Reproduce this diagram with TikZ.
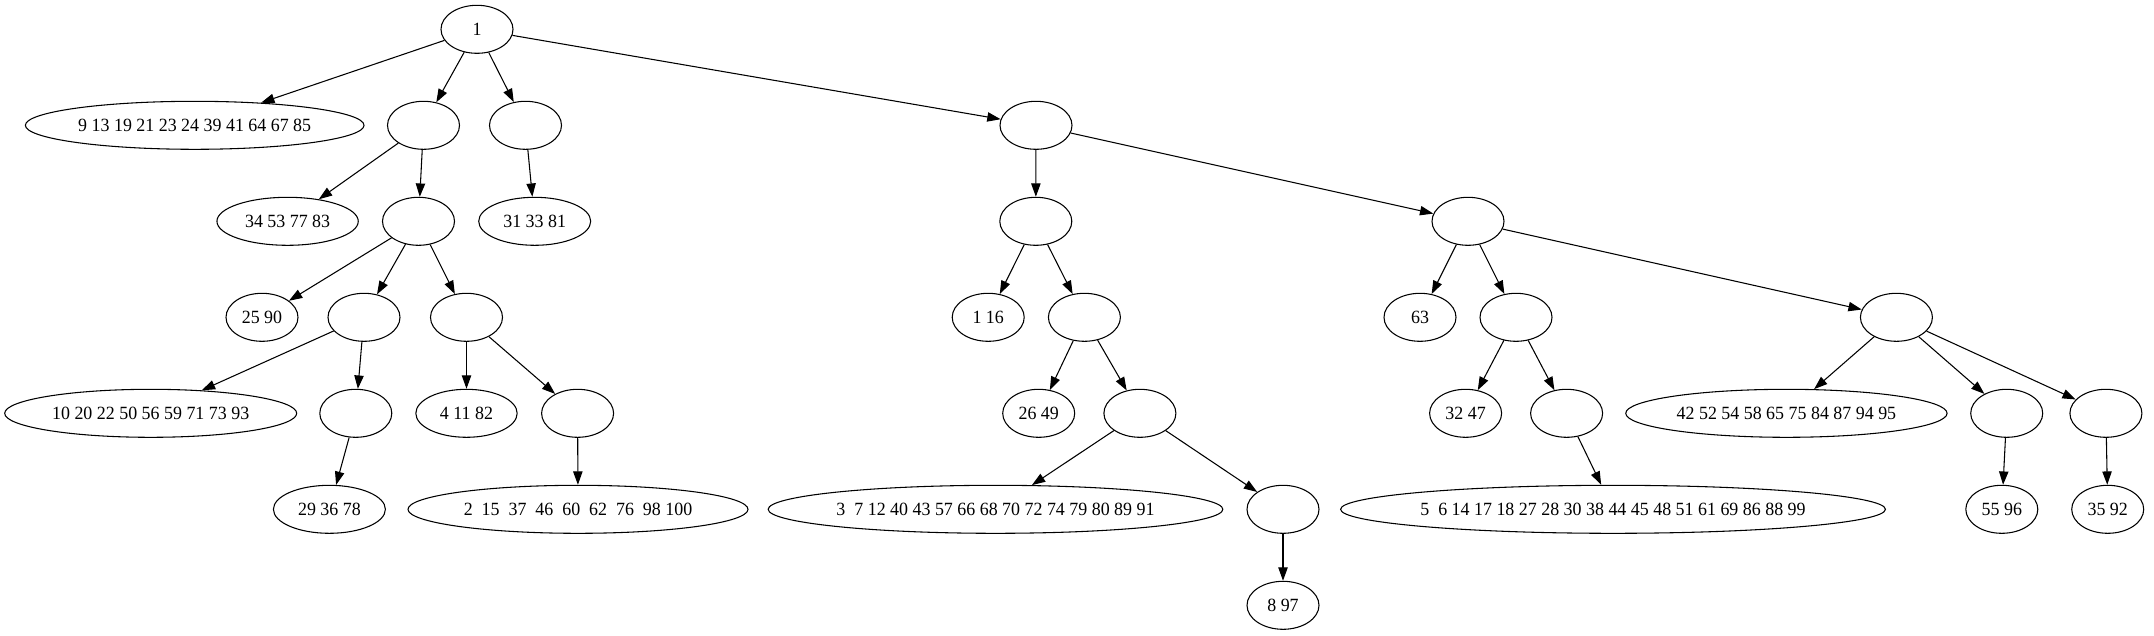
\documentclass[tikz,border=0pt]{standalone}
\usepackage{fontspec}
\setmainfont{Liberation Serif}
\newfontfamily\nodefont{Liberation Serif}[FakeStretch=0.96]
\usepackage{tikz}
\usetikzlibrary{arrows.meta, shapes.geometric}

\begin{document}
\begin{tikzpicture}[
  x=0.75pt, y=-0.75pt,
  leaf/.style={draw, ellipse, minimum width=#1, minimum height=36pt, inner sep=0pt, font=\nodefont\fontsize{14}{16}\selectfont},
  leaf/.default=54pt,
  split/.style={draw, ellipse, minimum width=54pt, minimum height=36pt, inner sep=0pt},
  every path/.style={line width=0.8pt},
  >={Triangle[length=10pt,width=7pt]}
]
\useasboundingbox (0,0) rectangle (2154,635);

% rank 0 and 1
\node[leaf] (root) at (477,29.3) {1};
\node[leaf=254pt] (l9)  at (194.7,125.3) {9 13 19 21 23 24 39 41 64 67 85};
\node[split] (s1) at (423.5,125.3) {};
\node[split] (s2) at (525.5,125.3) {};
\node[split] (s3) at (1036,125.3) {};

% rank 2
\node[leaf=106pt] (l34) at (287.6,221.3) {34 53 77 83};
\node[split] (s4) at (418.5,221.3) {};
\node[leaf=84pt] (l31) at (534.7,221.3) {31 33 81};
\node[split] (s5) at (1035.8,221.3) {};
\node[split] (s6) at (1468,221.3) {};

% rank 3
\node[leaf] (l25) at (262,317.3) {25 90};
\node[split] (s7) at (364,317.3) {};
\node[split] (s8) at (466.5,317.3) {};
\node[leaf] (l1)  at (988.2,317.3) {1 16};
\node[split] (s9) at (1084.4,317.3) {};
\node[leaf] (l63) at (1420,317.3) {63};
\node[split] (s10) at (1516,317.3) {};
\node[split] (s11) at (1896.4,317.3) {};

% rank 4
\node[leaf=219pt] (l10) at (150.7,413.3) {10 20 22 50 56 59 71 73 93};
\node[split] (s12) at (355.8,413.3) {};
\node[leaf=76pt] (l4) at (466.5,413.3) {4 11 82};
\node[split] (s13) at (577.6,413.3) {};
\node[leaf] (l26) at (1038.7,413.3) {26 49};
\node[split] (s14) at (1139.9,413.3) {};
\node[leaf] (l32) at (1465.6,413.3) {32 47};
\node[split] (s15) at (1566.6,413.3) {};
\node[leaf=241pt] (l42) at (1786.4,413.3) {42 52 54 58 65 75 84 87 94 95};
\node[split] (s16) at (2006.7,413.3) {};
\node[split] (s17) at (2105.9,413.3) {};

% rank 5 and 6
\node[leaf=84pt] (l29) at (329.4,509.3) {29 36 78};
\node[leaf=255pt] (l2) at (578,509.3) {2\ \ 15\ \ 37\ \ 46\ \ 60\ \ 62\ \ 76\ \ 98 100};
\node[leaf=341pt] (l3) at (995.5,509.3) {3\ \ 7 12 40 43 57 66 68 70 72 74 79 80 89 91};
\node[split] (s18) at (1283,509.3) {};
\node[leaf=406pt] (l5) at (1613,509.3) {5\ \ 6 14 17 18 27 28 30 38 44 45 48 51 61 69 86 88 99};
\node[leaf] (l55) at (2001.8,509.3) {55 96};
\node[leaf] (l35) at (2107.7,509.3) {35 92};
\node[leaf] (l8)  at (1283,605.3) {8 97};

\draw[->] (root) -- (l9);
\draw[->] (root) -- (s1);
\draw[->] (root) -- (s2);
\draw[->] (root) -- (s3);
\draw[->] (s1) -- (l34);
\draw[->] (s1) -- (s4);
\draw[->] (s2) -- (l31);
\draw[->] (s4) -- (l25);
\draw[->] (s4) -- (s7);
\draw[->] (s4) -- (s8);
\draw[->] (s7) -- (l10);
\draw[->] (s7) -- (s12);
\draw[->] (s12) -- (l29);
\draw[->] (s8) -- (l4);
\draw[->] (s8) -- (s13);
\draw[->] (s13) -- (l2);
\draw[->] (s3) -- (s5);
\draw[->] (s3) -- (s6);
\draw[->] (s5) -- (l1);
\draw[->] (s5) -- (s9);
\draw[->] (s9) -- (l26);
\draw[->] (s9) -- (s14);
\draw[->] (s14) -- (l3);
\draw[->] (s14) -- (s18);
\draw[->] (s18) -- (l8);
\draw[->] (s6) -- (l63);
\draw[->] (s6) -- (s10);
\draw[->] (s6) -- (s11);
\draw[->] (s10) -- (l32);
\draw[->] (s10) -- (s15);
\draw[->] (s15) -- (l5);
\draw[->] (s11) -- (l42);
\draw[->] (s11) -- (s16);
\draw[->] (s11) -- (s17);
\draw[->] (s16) -- (l55);
\draw[->] (s17) -- (l35);
\end{tikzpicture}
\end{document}
